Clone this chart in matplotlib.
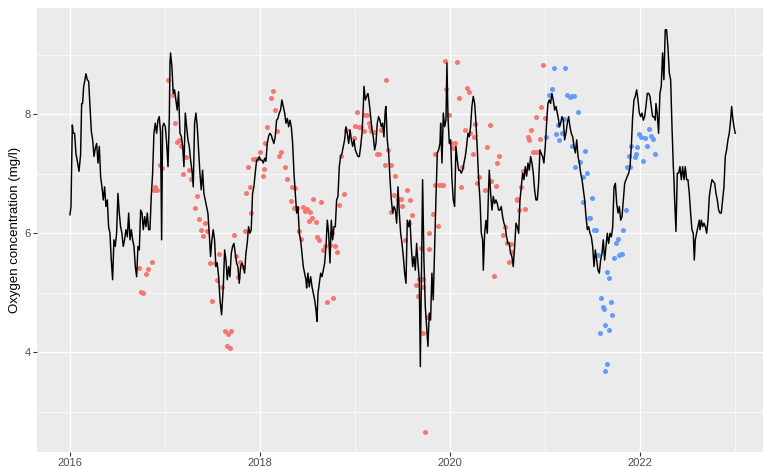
import matplotlib
matplotlib.use("Agg")
import matplotlib.pyplot as plt

# daily oxygen series (decimal year, mg/l)
line_year = [
    2016.000, 2016.011, 2016.025, 2016.035, 2016.049, 2016.063, 2016.081, 2016.095, 2016.112, 2016.123,
    2016.133, 2016.144, 2016.158, 2016.168, 2016.183, 2016.197, 2016.211, 2016.225, 2016.239, 2016.253,
    2016.267, 2016.281, 2016.295, 2016.309, 2016.323, 2016.337, 2016.351, 2016.365, 2016.379, 2016.393,
    2016.407, 2016.421, 2016.435, 2016.449, 2016.463, 2016.477, 2016.491, 2016.505, 2016.519, 2016.533,
    2016.547, 2016.561, 2016.575, 2016.589, 2016.604, 2016.618, 2016.632, 2016.646, 2016.660, 2016.674,
    2016.688, 2016.702, 2016.716, 2016.730, 2016.744, 2016.758, 2016.772, 2016.786, 2016.800, 2016.814,
    2016.828, 2016.842, 2016.856, 2016.870, 2016.884, 2016.898, 2016.912, 2016.926, 2016.940, 2016.954,
    2016.965, 2016.975, 2016.989, 2017.004, 2017.018, 2017.032, 2017.046, 2017.053,
    2017.059, 2017.073, 2017.087, 2017.101, 2017.115, 2017.129, 2017.143, 2017.158, 2017.172, 2017.186,
    2017.200, 2017.214, 2017.228, 2017.242, 2017.256, 2017.270, 2017.284, 2017.298, 2017.312, 2017.326,
    2017.340, 2017.354, 2017.368, 2017.382, 2017.396, 2017.410, 2017.424, 2017.438, 2017.452, 2017.466,
    2017.480, 2017.494, 2017.508, 2017.522, 2017.536, 2017.550, 2017.565, 2017.579, 2017.596, 2017.614,
    2017.628, 2017.642, 2017.656, 2017.670, 2017.684, 2017.698, 2017.712, 2017.726, 2017.740, 2017.754,
    2017.768, 2017.782, 2017.796, 2017.810, 2017.824, 2017.838, 2017.852, 2017.866, 2017.880, 2017.894,
    2017.908, 2017.922, 2017.936, 2017.950, 2017.965, 2017.979, 2017.993, 2018.007, 2018.021, 2018.035,
    2018.049, 2018.063, 2018.077, 2018.091, 2018.105, 2018.119, 2018.133, 2018.147, 2018.161, 2018.175,
    2018.189, 2018.203, 2018.217, 2018.231, 2018.245, 2018.260, 2018.274, 2018.288, 2018.302,
    2018.316, 2018.330, 2018.344, 2018.358, 2018.372, 2018.386, 2018.400, 2018.414, 2018.428, 2018.442,
    2018.456, 2018.470, 2018.484, 2018.491, 2018.505, 2018.519, 2018.534, 2018.548, 2018.562, 2018.576,
    2018.590, 2018.600, 2018.611, 2018.625, 2018.639, 2018.653, 2018.667, 2018.681, 2018.695, 2018.709,
    2018.723, 2018.737, 2018.751, 2018.765, 2018.779, 2018.793, 2018.807, 2018.821, 2018.835, 2018.849,
    2018.863, 2018.877, 2018.891, 2018.905, 2018.919, 2018.934, 2018.948, 2018.962, 2018.976, 2018.990,
    2019.004, 2019.018, 2019.032, 2019.046, 2019.060, 2019.074, 2019.088, 2019.095, 2019.109, 2019.123,
    2019.137, 2019.151, 2019.165, 2019.179, 2019.193, 2019.207, 2019.221, 2019.235, 2019.249, 2019.263,
    2019.277, 2019.291, 2019.305, 2019.319, 2019.326, 2019.340, 2019.355, 2019.369, 2019.383, 2019.397,
    2019.411, 2019.425, 2019.439, 2019.453, 2019.467, 2019.481, 2019.495, 2019.509, 2019.523, 2019.537,
    2019.551, 2019.565, 2019.579, 2019.593, 2019.607, 2019.621, 2019.635, 2019.649, 2019.663, 2019.677,
    2019.688,
    2019.712, 2019.726, 2019.740, 2019.754, 2019.768, 2019.782, 2019.796, 2019.810, 2019.824, 2019.838,
    2019.852, 2019.867, 2019.881, 2019.895, 2019.902, 2019.916, 2019.930, 2019.944, 2019.958, 2019.968,
    2019.979, 2019.993, 2020.007, 2020.021, 2020.035, 2020.049, 2020.063, 2020.077, 2020.091, 2020.105,
    2020.119, 2020.133, 2020.147, 2020.161, 2020.175, 2020.189, 2020.203, 2020.217, 2020.231, 2020.245,
    2020.260, 2020.274, 2020.288, 2020.302, 2020.316, 2020.330, 2020.344, 2020.351, 2020.365, 2020.379,
    2020.393, 2020.407, 2020.414, 2020.428, 2020.442, 2020.456, 2020.470, 2020.484, 2020.498, 2020.512,
    2020.526, 2020.540, 2020.554, 2020.568, 2020.582, 2020.596, 2020.610, 2020.624, 2020.638, 2020.652,
    2020.666, 2020.681, 2020.695, 2020.709, 2020.723, 2020.737, 2020.751, 2020.765, 2020.779, 2020.793,
    2020.807, 2020.821, 2020.835, 2020.849, 2020.863, 2020.877, 2020.891, 2020.905, 2020.919, 2020.933,
    2020.947, 2020.961, 2020.975, 2020.989, 2021.003, 2021.017, 2021.031, 2021.045, 2021.059, 2021.073,
    2021.087, 2021.102, 2021.116, 2021.130, 2021.144,
    2021.151, 2021.165, 2021.179, 2021.193, 2021.207, 2021.221, 2021.235, 2021.249, 2021.263, 2021.277,
    2021.292, 2021.306, 2021.320, 2021.334, 2021.348, 2021.362, 2021.376, 2021.390, 2021.404, 2021.418,
    2021.432, 2021.446, 2021.460, 2021.474, 2021.488, 2021.502, 2021.516, 2021.530, 2021.544, 2021.558,
    2021.572, 2021.586, 2021.600, 2021.614, 2021.628, 2021.642, 2021.656, 2021.670, 2021.685, 2021.699,
    2021.713, 2021.727, 2021.741, 2021.755, 2021.769, 2021.783, 2021.797, 2021.811, 2021.825, 2021.839,
    2021.853, 2021.867, 2021.881, 2021.895, 2021.909, 2021.923, 2021.937, 2021.951, 2021.965, 2021.979,
    2021.993, 2022.007, 2022.021, 2022.035, 2022.049, 2022.063, 2022.077, 2022.092,
    2022.105, 2022.119, 2022.133, 2022.147, 2022.161, 2022.168, 2022.182, 2022.196, 2022.210, 2022.224,
    2022.238, 2022.252, 2022.266, 2022.280, 2022.294, 2022.309, 2022.323, 2022.337, 2022.351, 2022.358,
    2022.365, 2022.379, 2022.393, 2022.407, 2022.421, 2022.435, 2022.449, 2022.463, 2022.477, 2022.491,
    2022.505, 2022.519, 2022.533, 2022.547, 2022.561, 2022.572, 2022.582, 2022.596, 2022.610, 2022.624,
    2022.632, 2022.646, 2022.660, 2022.673, 2022.688, 2022.702, 2022.716, 2022.730, 2022.744, 2022.758,
    2022.772, 2022.786, 2022.800, 2022.814, 2022.828, 2022.842, 2022.856, 2022.870, 2022.884, 2022.898,
    2022.912, 2022.926, 2022.940, 2022.954, 2022.965, 2022.975, 2022.989, 2023.003,
]
line_oxygen = [
    6.31, 6.45, 7.82, 7.68, 7.68, 7.34, 7.18, 7.04, 7.32, 8.18,
    8.18, 8.46, 8.58, 8.68, 8.58, 8.55, 8.13, 7.71, 7.57, 7.29,
    7.43, 7.51, 7.18, 7.46, 6.95, 6.78, 6.56, 6.78, 6.45, 6.56,
    6.11, 6.00, 5.55, 5.22, 5.89, 5.78, 6.00, 6.67, 6.34, 6.11,
    6.00, 5.78, 5.89, 6.06, 5.94, 6.34, 5.89, 6.06, 5.89, 5.78,
    5.44, 5.27, 5.78, 5.72, 6.39, 6.34, 6.06, 6.28, 6.11, 6.34,
    6.06, 6.06, 6.62, 7.00, 7.68, 7.85, 7.68, 7.90, 7.96, 7.68,
    5.89, 7.79, 7.85, 7.79, 7.51, 7.12, 7.96, 8.86,
    9.03, 8.80, 8.35, 8.41, 8.24, 8.07, 8.38, 7.68, 7.63, 7.46,
    7.12, 8.02, 7.79, 7.57, 7.46, 7.23, 7.06, 6.78, 7.85, 8.02,
    7.79, 7.40, 7.01, 6.73, 7.06, 6.67, 6.56, 6.45, 6.34, 6.00,
    5.61, 5.89, 6.06, 5.89, 5.44, 5.50, 5.27, 4.88, 4.63, 5.10,
    5.72, 5.55, 5.22, 5.44, 5.27, 5.66, 5.78, 5.83, 5.66, 5.50,
    5.44, 5.16, 5.44, 5.50, 5.44, 5.33, 5.66, 5.83, 6.11, 6.00,
    6.06, 6.67, 6.78, 7.01, 7.23, 7.23, 7.29, 7.23, 7.23, 7.18,
    7.26, 7.21, 7.51, 7.63, 7.68, 7.65, 7.57, 7.51, 7.63, 7.90,
    7.93, 8.02, 8.07, 8.24, 8.13, 8.02, 7.85, 7.93, 7.79,
    7.90, 7.79, 7.51, 7.01, 6.67, 6.34, 6.45, 6.00, 5.89, 5.66,
    5.44, 5.33, 5.22, 5.08, 5.33, 5.10, 5.27, 5.10, 4.99, 4.88,
    4.71, 4.52, 4.99, 5.16, 5.33, 5.27, 5.38, 5.50, 5.78, 6.22,
    6.00, 5.50, 6.22, 5.89, 6.11, 6.11, 6.56, 6.62, 7.12, 7.29,
    7.34, 7.46, 7.57, 7.79, 7.68, 7.51, 7.74, 7.57, 7.46, 7.57,
    7.40, 7.34, 7.29, 7.29, 7.46, 7.68, 8.13, 8.47, 8.24, 8.30,
    8.35, 8.18, 7.96, 7.74, 7.62, 7.40, 7.51, 7.85, 7.96, 7.90,
    7.79, 7.85, 7.62, 8.07, 8.13, 7.57, 7.34, 6.90, 6.56, 6.34,
    6.45, 6.39, 6.17, 6.78, 6.34, 6.00, 5.83, 5.61, 5.33, 5.16,
    6.22, 6.11, 6.22, 5.78, 5.44, 5.61, 5.38, 5.83, 5.50, 5.22,
    3.76,
    6.90, 5.55, 4.77, 4.43, 4.10, 4.66, 4.54, 5.33, 4.88, 5.72,
    6.56, 7.35, 7.40, 7.51, 7.85, 7.18, 8.02, 7.79, 7.90, 8.86,
    7.96, 7.51, 7.57, 6.90, 6.56, 6.45, 7.46, 7.23, 7.06, 7.06,
    7.01, 7.06, 7.18, 7.29, 7.46, 7.68, 7.62, 7.79, 8.13, 8.30,
    8.18, 7.85, 7.40, 6.90, 6.56, 6.00, 5.89, 5.38, 6.00, 6.22,
    6.00, 6.78, 7.06, 6.67, 6.39, 6.62, 6.50, 6.56, 6.50, 6.39,
    6.39, 6.45, 6.28, 6.17, 6.11, 5.94, 5.83, 5.83, 5.66, 5.61,
    5.44, 5.78, 6.17, 6.11, 6.00, 6.56, 6.78, 7.01, 6.90, 7.12,
    6.96, 7.18, 7.06, 7.29, 7.18, 7.01, 6.73, 6.56, 6.56, 6.84,
    7.40, 7.34, 7.29, 7.18, 7.46, 7.85, 8.18, 8.24, 8.18, 8.35,
    8.24, 8.07, 8.13, 8.02, 7.90,
    7.79, 7.85, 7.96, 7.90, 7.57, 7.68, 7.85, 7.96, 7.79, 7.68,
    7.62, 7.46, 7.35, 7.57, 7.29, 7.18, 7.01, 6.90, 6.73, 6.56,
    6.28, 6.06, 6.11, 6.00, 5.94, 5.78, 5.44, 5.72, 5.55, 5.38,
    5.33, 5.55, 5.66, 5.89, 5.55, 5.78, 6.00, 5.83, 6.00, 5.94,
    6.11, 6.78, 6.84, 6.50, 6.34, 6.45, 6.22, 6.28, 6.56, 6.84,
    6.90, 6.96, 7.01, 7.12, 7.46, 7.96, 8.24, 8.30, 8.41, 8.24,
    8.02, 7.96, 8.02, 7.90, 7.96, 8.13, 8.35, 8.35,
    8.30, 8.13, 7.96, 7.96, 7.90, 8.18, 8.01, 7.68, 8.35, 8.47,
    9.03, 8.58, 9.42, 9.42, 9.14, 8.69, 8.58, 7.79, 7.12, 6.90,
    6.56, 6.03, 7.01, 7.01, 7.12, 6.90, 7.12, 6.90, 7.12, 6.90,
    6.90, 6.67, 6.34, 6.06, 6.00, 5.55, 5.89, 6.00, 6.11, 6.22,
    6.06, 6.22, 6.11, 6.17, 6.11, 6.00, 6.22, 6.62, 6.78, 6.90,
    6.87, 6.84, 6.67, 6.56, 6.39, 6.34, 6.34, 6.56, 6.78, 7.29,
    7.40, 7.57, 7.68, 7.90, 8.13, 7.96, 7.79, 7.68,
]

# measured samples up to 2020
red_year = [
    2016.730, 2016.747, 2016.772, 2016.800, 2016.825, 2016.867, 2016.884, 2016.898, 2016.919, 2016.944,
    2016.972, 2017.032, 2017.080, 2017.108, 2017.129, 2017.143, 2017.165, 2017.186, 2017.221, 2017.249,
    2017.270, 2017.319, 2017.340, 2017.361, 2017.382, 2017.396, 2017.417, 2017.438, 2017.473, 2017.494,
    2017.529, 2017.544, 2017.572, 2017.600, 2017.628, 2017.649, 2017.666, 2017.684, 2017.698, 2017.726,
    2017.747, 2017.768, 2017.789, 2017.817, 2017.845, 2017.852, 2017.873, 2017.894, 2017.908, 2017.929,
    2017.950, 2017.972, 2018.000, 2018.028, 2018.042, 2018.056, 2018.077, 2018.119, 2018.140, 2018.161,
    2018.182, 2018.196, 2018.217, 2018.259, 2018.287, 2018.322, 2018.336, 2018.358, 2018.372, 2018.386,
    2018.407, 2018.435, 2018.449, 2018.470, 2018.491, 2018.512, 2018.526, 2018.548, 2018.562, 2018.590,
    2018.604, 2018.625, 2018.646, 2018.660, 2018.681, 2018.702, 2018.737, 2018.758, 2018.772, 2018.793,
    2018.814, 2018.835, 2018.849, 2018.884, 2018.905, 2018.990, 2019.004, 2019.025, 2019.039, 2019.060,
    2019.095, 2019.109, 2019.130, 2019.144, 2019.158, 2019.172, 2019.200, 2019.235, 2019.249, 2019.277,
    2019.312, 2019.326, 2019.348, 2019.376, 2019.383, 2019.411, 2019.425, 2019.453, 2019.481, 2019.495,
    2019.523, 2019.551, 2019.565, 2019.579, 2019.600, 2019.642, 2019.663, 2019.670, 2019.698, 2019.712,
    2019.719, 2019.719, 2019.733, 2019.755, 2019.783, 2019.783, 2019.817, 2019.838, 2019.845, 2019.873,
    2019.888, 2019.909, 2019.930, 2019.944, 2019.958, 2019.993, 2020.007, 2020.028, 2020.056, 2020.070,
    2020.098, 2020.112, 2020.126, 2020.154, 2020.182, 2020.196, 2020.210, 2020.238, 2020.252, 2020.266,
    2020.288, 2020.309, 2020.372, 2020.386, 2020.421, 2020.428, 2020.463, 2020.484, 2020.498, 2020.512,
    2020.561, 2020.575, 2020.596, 2020.617, 2020.638, 2020.652, 2020.702, 2020.709, 2020.723, 2020.751,
    2020.765, 2020.786, 2020.821, 2020.835, 2020.849, 2020.870, 2020.884, 2020.905, 2020.919, 2020.947,
    2020.954, 2020.975, 2020.996,
]
red_oxygen = [
    5.42, 5.01, 5.00, 5.32, 5.40, 5.52, 6.73, 6.77, 6.72, 7.14,
    7.10, 8.57, 8.32, 7.86, 7.54, 7.57, 7.47, 6.99, 7.28, 7.06,
    6.91, 6.42, 6.63, 6.24, 6.06, 5.96, 6.18, 6.03, 5.50, 4.86,
    5.50, 5.22, 5.65, 5.10, 4.35, 4.11, 4.30, 4.08, 4.35, 5.97,
    5.62, 5.27, 5.52, 5.44, 6.03, 6.68, 7.11, 6.77, 6.34, 7.24,
    7.24, 7.24, 7.37, 6.97, 7.08, 7.52, 7.78, 8.28, 8.39, 8.07,
    7.72, 7.29, 7.37, 7.12, 6.91, 6.54, 6.77, 6.43, 6.76, 6.42,
    6.03, 5.90, 6.44, 6.38, 6.41, 6.20, 6.35, 6.25, 6.57, 6.19,
    5.93, 5.89, 6.52, 5.72, 5.79, 4.85, 5.80, 6.00, 4.91, 5.79,
    5.68, 6.48, 7.29, 6.66, 7.73, 7.60, 7.81, 8.03, 7.78, 7.78,
    7.72, 7.99, 7.99, 7.86, 7.78, 7.72, 7.70, 7.34, 7.34, 7.74,
    7.14, 8.57, 7.40, 7.15, 6.36, 6.64, 6.96, 6.57, 6.57, 6.46,
    5.88, 6.73, 6.18, 6.56, 6.30, 5.13, 4.94, 5.23, 5.75, 5.24,
    5.10, 4.33, 2.66, 4.60, 6.01, 5.73, 6.32, 7.33, 6.81, 6.12,
    6.81, 6.81, 6.81, 8.90, 8.42, 7.98, 7.51, 7.43, 7.51, 8.87,
    8.27, 6.78, 7.12, 7.73, 8.44, 8.38, 7.68, 7.33, 7.62, 7.84,
    6.85, 6.94, 6.72, 7.45, 7.82, 6.87, 5.28, 6.80, 7.18, 7.30,
    5.97, 6.10, 5.83, 5.51, 5.82, 5.68, 6.56, 6.58, 6.39, 6.77,
    7.04, 6.40, 7.62, 7.57, 7.74, 7.36, 7.37, 7.95, 7.37, 7.58,
    8.12, 8.82, 7.93,
]

# measured samples from 2021
blue_year = [
    2021.010, 2021.045, 2021.073, 2021.094, 2021.116, 2021.137, 2021.151, 2021.179, 2021.200, 2021.207,
    2021.228, 2021.264, 2021.285, 2021.306, 2021.285, 2021.348, 2021.320, 2021.369, 2021.418, 2021.439,
    2021.397, 2021.404, 2021.460, 2021.474, 2021.495, 2021.516, 2021.537, 2021.558, 2021.593, 2021.607,
    2021.621, 2021.628, 2021.579, 2021.649, 2021.635, 2021.656, 2021.671, 2021.678, 2021.699, 2021.706,
    2021.727, 2021.748, 2021.769, 2021.783, 2021.797, 2021.811, 2021.825, 2021.853, 2021.867, 2021.881,
    2021.895, 2021.909, 2021.951, 2021.958, 2021.972, 2021.993, 2022.014, 2022.035, 2022.056, 2022.077,
    2022.092, 2022.113, 2022.134, 2022.162,
]
blue_oxygen = [
    7.62, 8.32, 8.42, 8.78, 7.66, 7.82, 7.56, 7.68, 7.92, 8.77,
    8.33, 8.29, 8.30, 8.31, 7.47, 8.03, 7.12, 7.19, 7.38, 7.01,
    6.52, 6.95, 6.25, 6.25, 6.59, 6.06, 6.06, 5.64, 4.91, 4.76,
    4.73, 4.46, 4.32, 3.81, 3.69, 5.35, 5.25, 4.38, 4.85, 4.63,
    5.59, 5.84, 5.90, 5.64, 5.65, 5.65, 6.06, 6.39, 7.12, 7.30,
    7.11, 7.46, 7.28, 7.33, 7.45, 7.67, 7.61, 7.22, 7.60, 7.47,
    7.75, 7.64, 7.58, 7.33,
]

x_major = [2016, 2018, 2020, 2022]
x_minor = [2017, 2019, 2021, 2023]
y_major = [4, 6, 8]
y_minor = [3, 5, 7, 9]

plt.rcParams['font.family'] = ['Liberation Sans', 'DejaVu Sans']

W, H = 763, 467
fig = plt.figure(figsize=(W / 100, H / 100), dpi=100)
left, right, top, bottom = 36.7, 763, 8.3, 452
ax = fig.add_axes([left / W, 1 - bottom / H, (right - left) / W, (bottom - top) / H])
ax.set_facecolor('#EBEBEB')
for s in ax.spines.values():
    s.set_visible(False)

ax.set_xlim(2015.65, 2023.295)
ax.set_ylim(2.325, 9.78)
ax.set_xticks(x_major)
ax.set_xticks(x_minor, minor=True)
ax.set_xticklabels([str(v) for v in x_major])
ax.set_yticks(y_major)
ax.set_yticks(y_minor, minor=True)
ax.set_yticklabels([str(v) for v in y_major])
ax.grid(which='major', color='white', linewidth=1.0)
ax.grid(which='minor', color='white', linewidth=0.5)
ax.set_axisbelow(True)
ax.tick_params(which='major', direction='out', length=2.6, width=0.8, color='#333333',
               labelcolor='#4D4D4D', labelsize=8, pad=1.6)
ax.tick_params(which='minor', length=0)

ax.plot(line_year, line_oxygen, color='black', linewidth=1.05, zorder=3)
ax.scatter(red_year, red_oxygen, s=13, color='#F8766D', linewidths=0, zorder=2)
ax.scatter(blue_year, blue_oxygen, s=13, color='#619CFF', linewidths=0, zorder=2)

fig.text(15 / W, 1 - 230 / H, 'Oxygen concentration (mg/l)', rotation=90,
         ha='center', va='center', fontsize=9.5, color='black')

fig.savefig('out.png', dpi=100)
